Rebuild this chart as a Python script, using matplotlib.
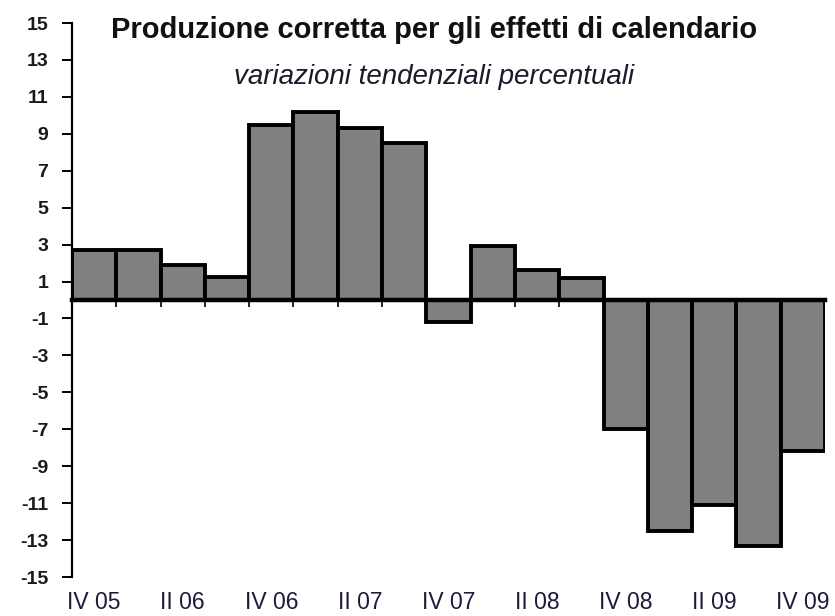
import matplotlib
matplotlib.use("Agg")
import matplotlib.pyplot as plt
import numpy as np

quarters = ["IV 05", "I 06", "II 06", "III 06", "IV 06", "I 07", "II 07", "III 07",
            "IV 07", "I 08", "II 08", "III 08", "IV 08", "I 09", "II 09", "III 09", "IV 09"]
values = [2.7, 2.7, 1.9, 1.25, 9.5, 10.2, 9.3, 8.5,
          -1.2, 2.9, 1.6, 1.2, -7.0, -12.5, -11.1, -13.3, -8.2]
yticks = list(range(-15, 16, 2))

plt.rcParams['font.family'] = ['Liberation Sans', 'DejaVu Sans']

fig = plt.figure(figsize=(8.35, 6.16), dpi=100)
ax = fig.add_axes([72/835, 39/616, 753/835, 554/616])

x = np.arange(len(values))
ax.bar(x, values, width=1.0, color='#808080', edgecolor='black', linewidth=2.8, zorder=2)

ax.set_xlim(-0.5, len(values) - 0.5)
ax.set_ylim(-15, 15)
ax.set_yticks(yticks)
ax.set_yticklabels([str(t) for t in yticks], fontsize=14, fontweight='bold', color='#1a1a1a')

ax.spines['top'].set_visible(False)
ax.spines['right'].set_visible(False)
ax.spines['left'].set_linewidth(1.6)
ax.spines['bottom'].set_position(('data', 0))
ax.spines['bottom'].set_linewidth(3.2)
ax.spines['bottom'].set_zorder(3)
ax.tick_params(axis='y', length=7, width=1.4, pad=10, direction='out')
ax.set_xticks(np.arange(0.5, len(values) - 1, 1.0))
ax.set_xticklabels([])
ax.tick_params(axis='x', length=5, width=1.2, direction='out')

for i, q in enumerate(quarters):
    if i % 2 == 0:
        ax.text(i, -16.4, q, ha='center', va='center', fontsize=16.5, color='#1a1a3a', clip_on=False)

fig.text(434/835, 1 - 30/616, "Produzione corretta per gli effetti di calendario",
         ha='center', va='center', fontsize=21, fontweight='bold', color='#111111')
fig.text(434/835, 1 - 77/616, "variazioni tendenziali percentuali",
         ha='center', va='center', fontsize=20, style='italic', color='#1a1a2a')

fig.savefig("out.png", dpi=100)
